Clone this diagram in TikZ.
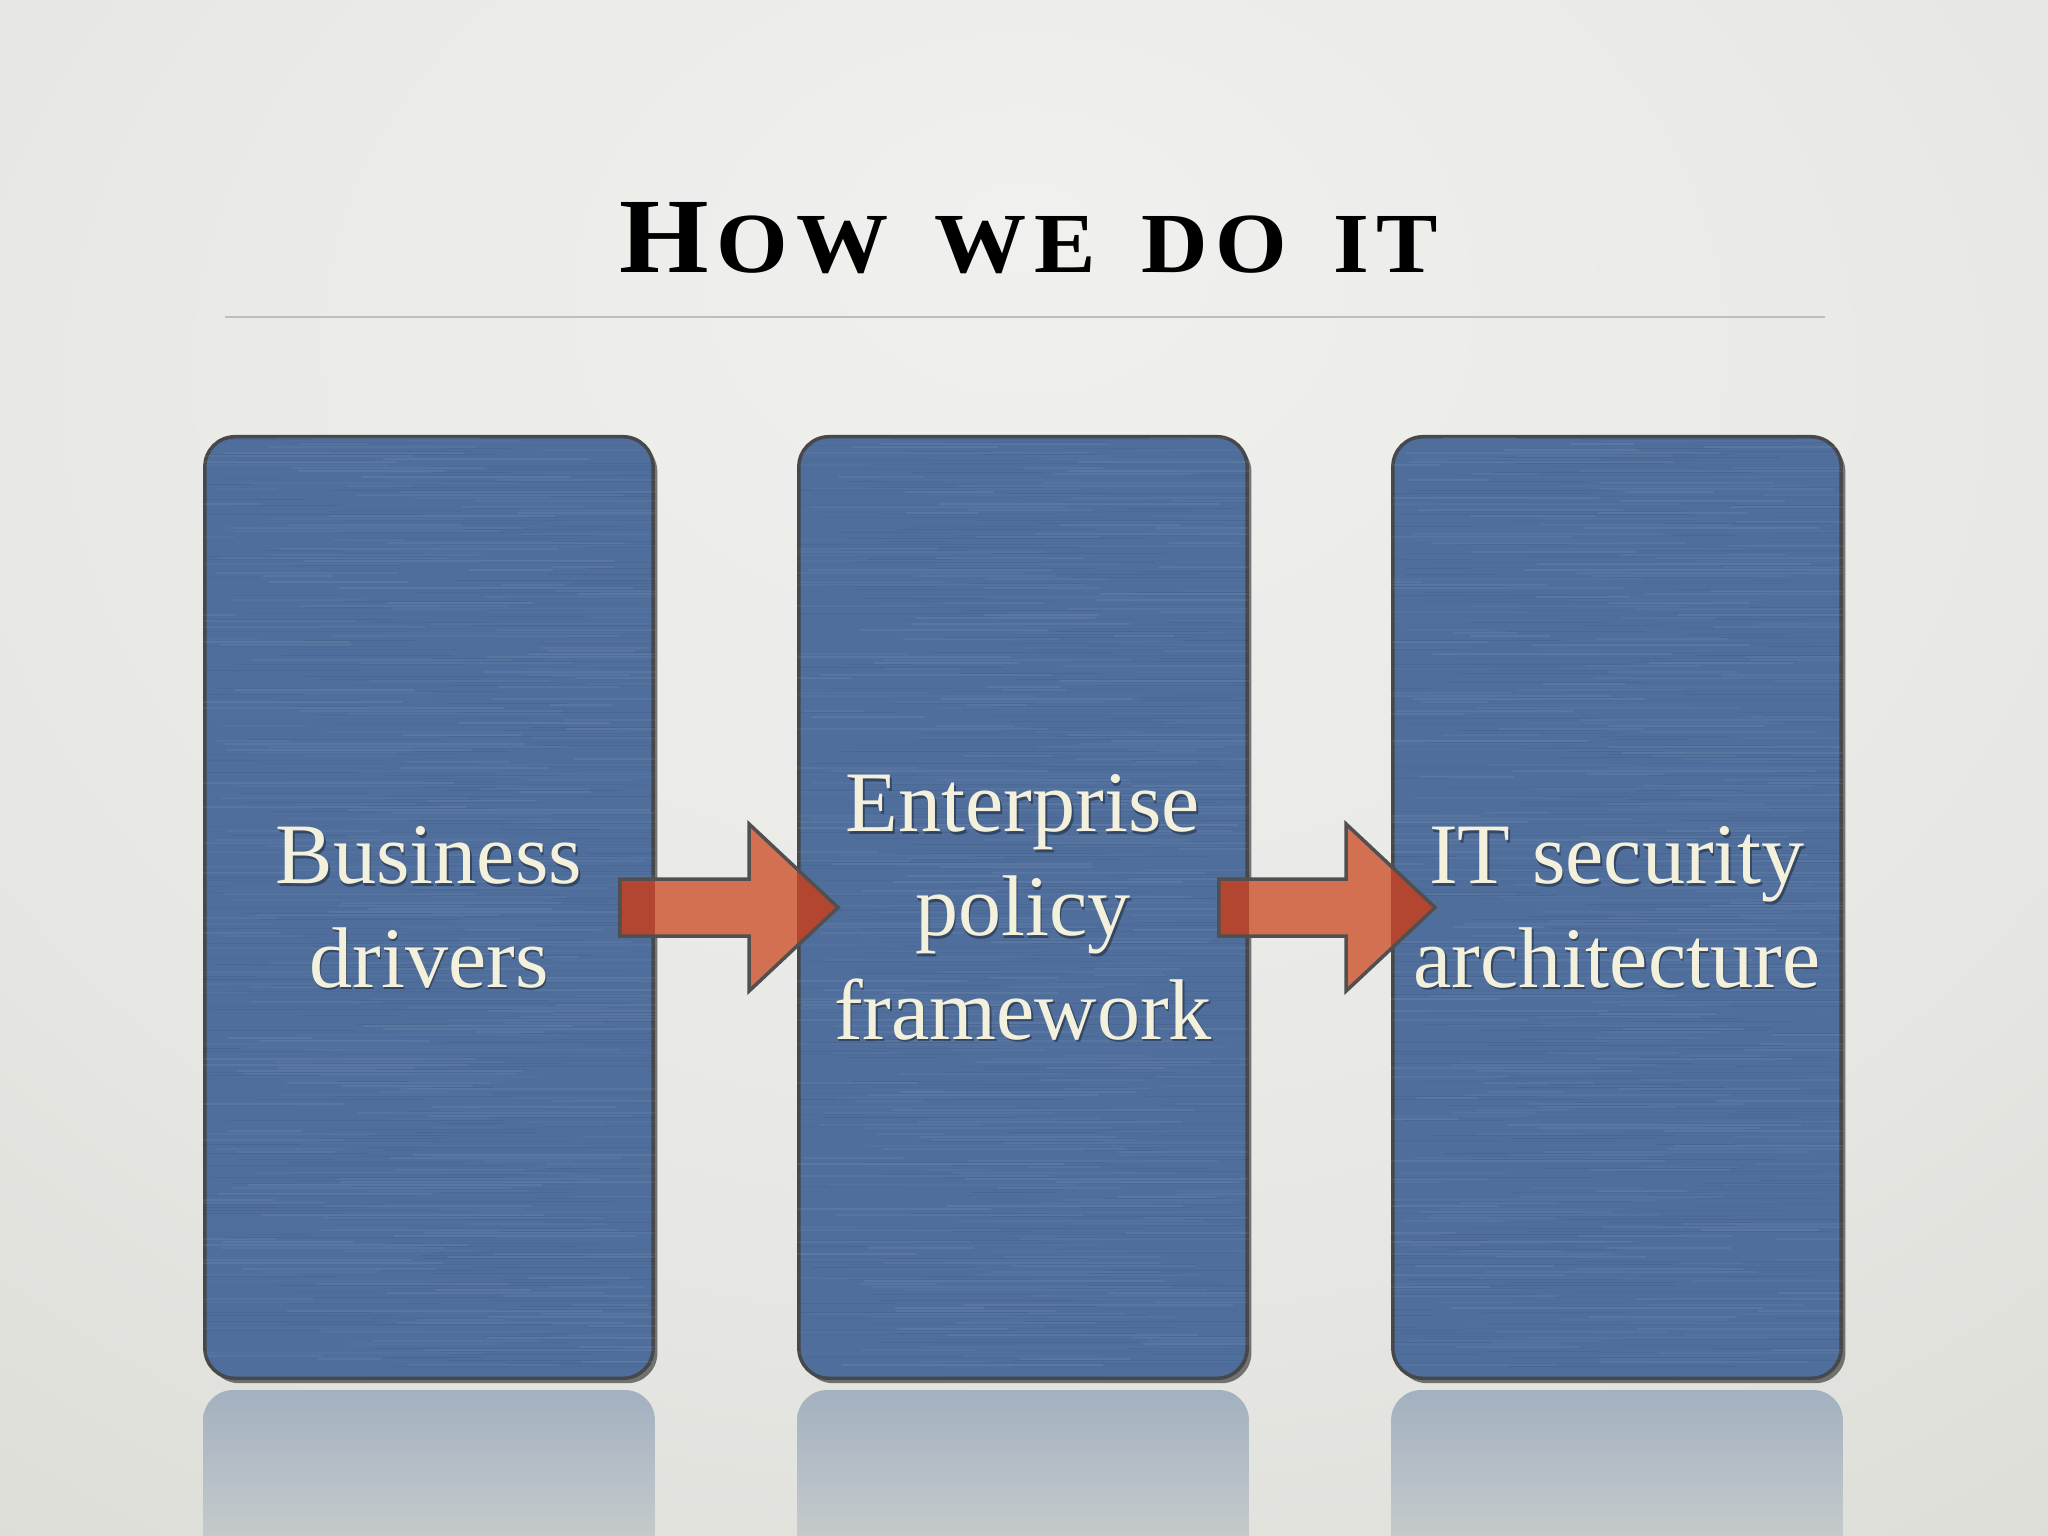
\documentclass[tikz,border=0pt]{standalone}
\usepackage{fontspec}
\setmainfont{Liberation Serif}
\usepackage{graphicx}
\usetikzlibrary{shadows,calc}

\definecolor{boxblue}{RGB}{79,110,156}
\definecolor{boxedge}{RGB}{70,72,76}
\definecolor{arrorange}{RGB}{212,112,82}
\definecolor{arrdark}{RGB}{178,70,48}
\definecolor{arredge}{RGB}{80,80,80}
\definecolor{cream}{RGB}{243,240,220}
\definecolor{rulecol}{RGB}{190,190,188}
\definecolor{bgin}{RGB}{240,240,238}
\definecolor{bgmid}{RGB}{232,232,229}
\definecolor{bgedge}{RGB}{216,217,209}
\definecolor{bgout}{RGB}{206,207,197}
\definecolor{refltop}{RGB}{162,176,192}
\definecolor{reflbot}{RGB}{212,214,208}

\pgfdeclareradialshading{bgshade}{\pgfpoint{0bp}{18bp}}{color(0bp)=(bgin); color(25bp)=(bgmid); color(50bp)=(bgedge); color(72bp)=(bgout)}

\newcommand\blockarrow[3]{\path[#1] ($(#2)+(0,-28.5)$) -- ($(#3)+(-89,-28.5)$) -- ($(#3)+(-89,-83.5)$) -- (#3) -- ($(#3)+(-89,83.5)$) -- ($(#3)+(-89,28.5)$) -- ($(#2)+(0,28.5)$) -- cycle;}

\tikzset{
  box/.style={draw=boxedge, line width=1pt, fill=boxblue, rounded corners=0.3cm,
    minimum width=4.48cm, minimum height=9.41cm, inner sep=0pt,
    drop shadow={shadow xshift=1.2pt, shadow yshift=-1.4pt, opacity=0.5, fill=black}},
  lbl/.style={text=cream, align=center, inner sep=0pt, font=\fontsize{24.5}{29.5}\selectfont},
  lblshadow/.style={lbl, text=black, opacity=0.35},
  titlestyle/.style={inner sep=0pt, anchor=base west, text=black},
  reflstyle/.style={top color=refltop, bottom color=reflbot, rounded corners=0.3cm},
}

\begin{document}
\begin{tikzpicture}[x=0.01cm,y=-0.01cm]
\useasboundingbox (0,0) rectangle (2048,1536);
\clip (0,0) rectangle (2048,1536);
\shade[shading=bgshade] (0,0) rectangle (2048,1536);

% title
\node[titlestyle] (title) at (619,272) {\resizebox{8.18cm}{0.70cm}{\bfseries{\fontsize{30}{30}\selectfont H}\kern2pt{\fontsize{24}{24}\selectfont O\kern2pt W\kern12pt W\kern2pt E\kern12pt D\kern2pt O\kern12pt I\kern2pt T}}};
\coordinate (rl) at (225,317);
\coordinate (rr) at (1825,317);
\draw[rulecol, line width=0.6pt] (rl) -- (rr);

% boxes
\node[box] (b1) at (429,907.5) {};
\node[box] (b2) at (1023,907.5) {};
\node[box] (b3) at (1617,907.5) {};

% reflections
\foreach \b in {b1,b2,b3}{
  \shade[reflstyle] ($(\b.south west)+(0,10)$) rectangle ($(\b.south east)+(0,220)$);
}

% brushed texture
\pgfmathsetseed{4242}
\foreach \b in {b1,b2,b3}{
  \begin{scope}
    \clip[rounded corners=0.3cm] (\b.south west) rectangle (\b.north east);
    \foreach \k in {1,...,310}{
      \pgfmathsetmacro\xs{rnd*448-60}
      \pgfmathsetmacro\ln{60+rnd*260}
      \pgfmathsetmacro\op{0.02+0.05*rnd}
      \pgfmathsetmacro\xt{rnd*448-60}
      \pgfmathsetmacro\lt{60+rnd*260}
      \pgfmathsetmacro\ot{0.02+0.05*rnd}
      \draw[white, opacity=\op, line width=0.5pt] ($(\b.north west)+(\xs,3*\k)$) -- ++(\ln,0);
      \draw[black, opacity=\ot, line width=0.5pt] ($(\b.north west)+(\xt,3*\k+1.5)$) -- ++(\lt,0);
    }
  \end{scope}
}

% arrows
\coordinate (a1s) at ($(b1.east)+(-35,0)$);
\coordinate (a1t) at ($(b2.west)+(41,0)$);
\coordinate (a2s) at ($(b2.east)+(-30,0)$);
\coordinate (a2t) at ($(b3.west)+(44,0)$);

\blockarrow{fill=arrorange}{a1s}{a1t}
\blockarrow{fill=arrorange}{a2s}{a2t}
\foreach \b in {b1,b2,b3}{
  \begin{scope}
    \clip[rounded corners=0.3cm] (\b.south west) rectangle (\b.north east);
    \blockarrow{fill=arrdark}{a1s}{a1t}
    \blockarrow{fill=arrdark}{a2s}{a2t}
  \end{scope}
}
\blockarrow{draw=arredge, line width=1pt, line join=miter}{a1s}{a1t}
\blockarrow{draw=arredge, line width=1pt, line join=miter}{a2s}{a2t}

% labels
\node[lblshadow] (t1s) at ($(b1.center)+(1.5,2.5)$) {Business\\drivers};
\node[lbl] (t1) at (b1.center) {Business\\drivers};
\node[lblshadow] (t2s) at ($(b2.center)+(1.5,2.5)$) {Enterprise\\policy\\framework};
\node[lbl] (t2) at (b2.center) {Enterprise\\policy\\framework};
\node[lblshadow] (t3s) at ($(b3.center)+(1.5,2.5)$) {IT security\\architecture};
\node[lbl] (t3) at (b3.center) {IT security\\architecture};
\end{tikzpicture}
\end{document}
